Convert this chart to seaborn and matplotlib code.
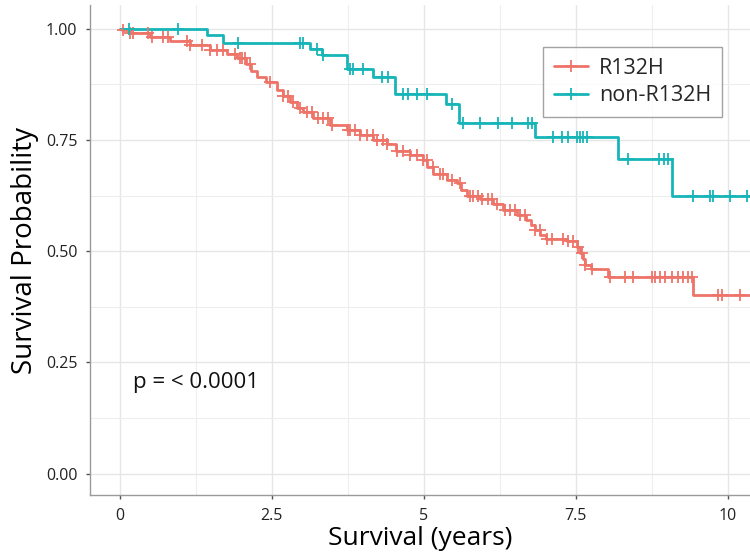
import numpy as np
import pandas as pd
import matplotlib
matplotlib.use("Agg")
import matplotlib.pyplot as plt
from matplotlib.lines import Line2D
from matplotlib.ticker import MultipleLocator
import seaborn as sns

groups = ["R132H", "non-R132H"]
colors = ["#EE7469", "#16B5B8"]

# Kaplan-Meier estimate: times where the curve steps down and the level after each step
r132h_time = [0.00, 0.03, 0.16, 0.49, 0.82, 1.15, 1.48, 1.76, 1.92, 2.08, 2.16, 2.25,
              2.41, 2.58, 2.68, 2.80, 2.91, 3.02, 3.18, 3.46, 3.73, 3.95, 4.17, 4.39,
              4.55, 4.77, 4.99, 5.06, 5.16, 5.38, 5.54, 5.62, 5.71, 5.92, 6.14, 6.31,
              6.53, 6.69, 6.76, 6.83, 6.92, 7.02, 7.35, 7.52, 7.57, 7.62, 7.65, 7.76,
              8.04, 9.43]
r132h_surv = [1.000, 0.997, 0.990, 0.981, 0.972, 0.964, 0.952, 0.943, 0.934, 0.921, 0.905, 0.891,
              0.880, 0.861, 0.848, 0.835, 0.822, 0.812, 0.798, 0.783, 0.773, 0.760, 0.749, 0.741,
              0.726, 0.715, 0.704, 0.690, 0.674, 0.659, 0.652, 0.638, 0.625, 0.618, 0.607, 0.592,
              0.581, 0.569, 0.558, 0.547, 0.536, 0.528, 0.523, 0.509, 0.495, 0.483, 0.468, 0.459,
              0.442, 0.401]
r132h_censor = [0.05, 0.16, 0.21, 0.46, 0.53, 0.71, 0.79, 1.10, 1.15, 1.35, 1.48, 1.60, 1.69,
                1.89, 1.97, 2.01, 2.06, 2.14, 2.47, 2.68, 2.76, 2.85, 2.96, 3.08, 3.16, 3.26,
                3.34, 3.42, 3.49, 3.75, 3.78, 3.87, 3.95, 4.06, 4.16, 4.23, 4.33, 4.39, 4.56,
                4.66, 4.77, 4.89, 4.99, 5.05, 5.15, 5.27, 5.32, 5.46, 5.60, 5.76, 5.81, 5.89,
                5.96, 6.06, 6.12, 6.20, 6.34, 6.42, 6.50, 6.58, 6.66, 6.83, 6.91, 7.03, 7.11,
                7.29, 7.37, 7.45, 7.54, 7.60, 7.65, 7.77, 8.06, 8.31, 8.44, 8.75, 8.80, 8.89,
                8.97, 9.09, 9.18, 9.26, 9.35, 9.41, 9.84, 9.91, 10.20]

non_time = [0.00, 1.43, 1.70, 3.13, 3.32, 3.73, 4.16, 4.52, 5.37, 5.58, 6.83, 8.20, 9.08]
non_surv = [1.000, 0.985, 0.968, 0.955, 0.940, 0.909, 0.891, 0.852, 0.831, 0.789, 0.756,
            0.706, 0.623]
non_censor = [0.15, 0.96, 1.95, 2.96, 3.01, 3.24, 3.34, 3.78, 3.83, 4.00, 4.31, 4.41, 4.66,
              4.74, 4.89, 5.05, 5.46, 5.64, 5.92, 6.22, 6.45, 6.71, 6.78, 7.13, 7.27, 7.37,
              7.52, 7.57, 7.62, 7.68, 8.36, 8.87, 8.95, 9.02, 9.43, 9.71, 9.76, 10.04, 10.32]

follow_up_end = 10.5
p_label = "p = < 0.0001"


def step_frame(times, surv, name):
    t = list(times) + [follow_up_end]
    s = list(surv) + [surv[-1]]
    return pd.DataFrame({"time": t, "surv": s, "group": name})


def censor_frame(times, surv, censor, name):
    idx = np.searchsorted(np.asarray(times), np.asarray(censor), side="right") - 1
    return pd.DataFrame({"time": censor, "surv": np.asarray(surv)[idx], "group": name})


steps = pd.concat([step_frame(r132h_time, r132h_surv, groups[0]),
                   step_frame(non_time, non_surv, groups[1])], ignore_index=True)
marks = pd.concat([censor_frame(r132h_time, r132h_surv, r132h_censor, groups[0]),
                   censor_frame(non_time, non_surv, non_censor, groups[1])], ignore_index=True)

sns.set_theme(style="whitegrid")
plt.rcParams["font.family"] = ["Open Sans", "DejaVu Sans"]

fig = plt.figure(figsize=(7.5, 5.55), dpi=100)
ax = fig.add_axes([0.12, 0.108, 0.88, 0.883])
palette = dict(zip(groups, colors))

sns.lineplot(data=steps, x="time", y="surv", hue="group", palette=palette,
             drawstyle="steps-post", estimator=None, sort=False, linewidth=2.0,
             legend=False, ax=ax, zorder=3)
for g in groups:
    sub = marks[marks["group"] == g]
    ax.plot(sub["time"], sub["surv"], linestyle="none", marker="+", markersize=8.5,
            markeredgewidth=1.3, color=palette[g], zorder=4)

ax.set_xlim(-0.494, 10.37)
ax.set_ylim(-0.048, 1.053)
ax.xaxis.set_minor_locator(MultipleLocator(1.25))
ax.yaxis.set_minor_locator(MultipleLocator(0.125))
ax.set_xticks([0, 2.5, 5, 7.5, 10])
ax.set_xticklabels(["0", "2.5", "5", "7.5", "10"])
ax.set_yticks([0, 0.25, 0.5, 0.75, 1.0])
ax.set_yticklabels(["0.00", "0.25", "0.50", "0.75", "1.00"])

ax.grid(which="major", color="#E6E6E6", linewidth=1.0)
ax.grid(which="minor", color="#EDEDED", linewidth=0.8)
ax.set_facecolor("white")
for side in ["top", "right"]:
    ax.spines[side].set_visible(False)
for side in ["left", "bottom"]:
    ax.spines[side].set_color("#9A9A9A")
    ax.spines[side].set_linewidth(1.0)
ax.tick_params(which="major", length=3, width=1, color="#555555", labelsize=11.5,
               labelcolor="#222222", pad=6, left=True, bottom=True)
ax.tick_params(which="minor", length=0)

ax.set_xlabel("Survival (years)", fontsize=19, color="black", labelpad=2)
ax.set_ylabel("Survival Probability", fontsize=20, color="black", labelpad=5)

ax.text(0.21, 0.204, p_label, fontsize=16, ha="left", va="center", color="#111111")

handles = [Line2D([0], [0], color=c, linewidth=2.0, marker="+", markersize=8.5,
                  markeredgewidth=1.3) for c in colors]
leg = ax.legend(handles, groups, loc="upper left",
                bbox_to_anchor=(543 / 750, 1 - 47 / 555), bbox_transform=fig.transFigure,
                fontsize=15.5, frameon=True, fancybox=False, edgecolor="#8C8C8C",
                handlelength=1.6, handletextpad=0.5, borderpad=0.5, labelspacing=0.3,
                borderaxespad=0)
leg.get_frame().set_linewidth(1.0)

fig.savefig("out.png", dpi=100, facecolor="white")
